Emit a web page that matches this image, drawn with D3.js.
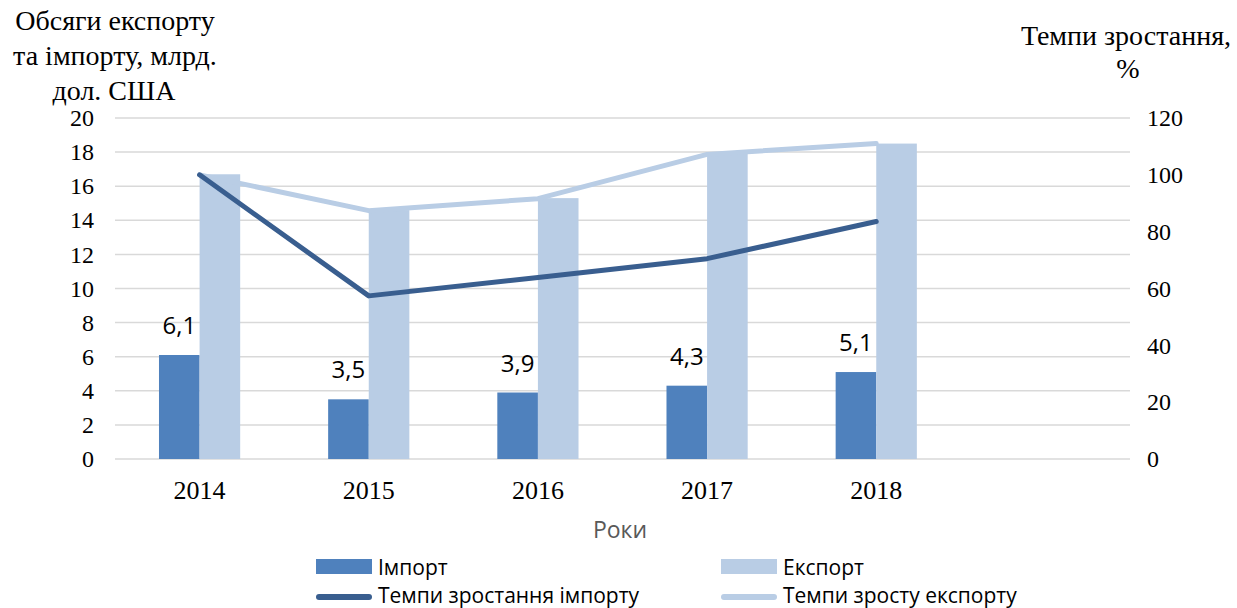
<!DOCTYPE html>
<html>
<head>
<meta charset="utf-8">
<script src="https://cdn.jsdelivr.net/npm/d3@7"></script>
<style>
  body { margin: 0; background: #fff; }
  svg { display: block; }
</style>
</head>
<body>
<div id="chart"></div>
<script>
// data
var years = ["2014", "2015", "2016", "2017", "2018"];
var importVals = [6.1, 3.5, 3.9, 4.3, 5.1];
var exportVals = [16.7, 14.6, 15.3, 17.9, 18.5];
var importGrowth = [100, 57.4, 63.9, 70.5, 83.6];
var exportGrowth = [100, 87.4, 91.6, 107.2, 111];
var leftTicks = [0, 2, 4, 6, 8, 10, 12, 14, 16, 18, 20];
var rightTicks = [0, 20, 40, 60, 80, 100, 120];

var width = 1237, height = 608;
var plotLeft = 115, plotRight = 1130, plotTop = 118, plotBottom = 459;

var colImport = "#4f81bd";
var colExport = "#b9cde5";
var colImportLine = "#395e8f";
var colExportLine = "#b9cde5";
var serif = "'Liberation Serif', 'Times New Roman', serif";
var sans = "'Open Sans', 'Noto Sans', sans-serif";

var svg = d3.select("#chart").append("svg")
    .attr("width", width)
    .attr("height", height);

// one empty slot after 2018, like the original
var x = d3.scaleBand()
    .domain(years.concat(["_"]))
    .range([plotLeft, plotRight])
    .padding(0);

var yL = d3.scaleLinear().domain([0, 20]).range([plotBottom, plotTop]);
var yR = d3.scaleLinear().domain([0, 120]).range([plotBottom, plotTop]);

var barW = x.bandwidth() * 0.24;
var cx = function(d) { return x(d) + x.bandwidth() / 2; };

// gridlines
svg.append("g").selectAll("line")
    .data(leftTicks)
    .enter().append("line")
    .attr("x1", plotLeft)
    .attr("x2", plotRight)
    .attr("y1", function(d) { return yL(d); })
    .attr("y2", function(d) { return yL(d); })
    .style("stroke", "#d9d9d9")
    .style("stroke-width", 1.5);

// left axis labels
var axL = svg.append("g")
    .attr("transform", "translate(" + (plotLeft - 21) + ",0)")
    .call(d3.axisLeft(yL).tickValues(leftTicks).tickSize(0).tickPadding(0));
axL.select(".domain").remove();
axL.selectAll("text")
    .style("font-family", serif)
    .style("font-size", "24px")
    .attr("fill", "#000");

// right axis labels
var axR = svg.append("g")
    .attr("transform", "translate(" + (plotRight + 17) + ",0)")
    .call(d3.axisRight(yR).tickValues(rightTicks).tickSize(0).tickPadding(0));
axR.select(".domain").remove();
axR.selectAll("text")
    .style("font-family", serif)
    .style("font-size", "24px")
    .attr("fill", "#000");

// x labels
svg.append("g").selectAll("text")
    .data(years)
    .enter().append("text")
    .attr("x", cx)
    .attr("y", plotBottom + 40)
    .attr("text-anchor", "middle")
    .style("font-family", serif)
    .style("font-size", "26px")
    .text(function(d) { return d; });

// bars
svg.append("g").selectAll("rect")
    .data(importVals)
    .enter().append("rect")
    .attr("x", function(d, i) { return cx(years[i]) - barW; })
    .attr("y", function(d) { return yL(d); })
    .attr("width", barW)
    .attr("height", function(d) { return plotBottom - yL(d); })
    .style("fill", colImport);

svg.append("g").selectAll("rect")
    .data(exportVals)
    .enter().append("rect")
    .attr("x", function(d, i) { return cx(years[i]); })
    .attr("y", function(d) { return yL(d); })
    .attr("width", barW)
    .attr("height", function(d) { return plotBottom - yL(d); })
    .style("fill", colExport);

// import labels
svg.append("g").selectAll("text")
    .data(importVals)
    .enter().append("text")
    .attr("x", function(d, i) { return cx(years[i]) - barW / 2; })
    .attr("y", function(d) { return yL(d) - 21; })
    .attr("text-anchor", "middle")
    .style("font-family", sans)
    .style("font-size", "24px")
    .text(function(d) { return String(d).replace(".", ","); });

// growth lines
var line = d3.line()
    .x(function(d, i) { return cx(years[i]); })
    .y(function(d) { return yR(d); });

svg.append("path")
    .datum(exportGrowth)
    .attr("d", line)
    .style("fill", "none")
    .style("stroke", colExportLine)
    .style("stroke-width", 5)
    .style("stroke-linecap", "round")
    .style("stroke-linejoin", "round");

svg.append("path")
    .datum(importGrowth)
    .attr("d", line)
    .style("fill", "none")
    .style("stroke", colImportLine)
    .style("stroke-width", 5)
    .style("stroke-linecap", "round")
    .style("stroke-linejoin", "round");

// axis titles
var tl = svg.append("text")
    .attr("text-anchor", "middle")
    .style("font-family", serif)
    .style("font-size", "28px");
tl.append("tspan").attr("x", 115).attr("y", 30).text("Обсяги експорту");
tl.append("tspan").attr("x", 115).attr("y", 65).text("та імпорту, млрд.");
tl.append("tspan").attr("x", 114).attr("y", 100).text("дол. США");

var tr = svg.append("text")
    .attr("text-anchor", "middle")
    .style("font-family", serif)
    .style("font-size", "28px");
tr.append("tspan").attr("x", 1126).attr("y", 45).text("Темпи зростання,");
tr.append("tspan").attr("x", 1128).attr("y", 78).text("%");

svg.append("text")
    .attr("x", 620)
    .attr("y", 538)
    .attr("text-anchor", "middle")
    .style("font-family", sans)
    .style("font-size", "23px")
    .attr("fill", "#595959")
    .text("Роки");

// legend
var legend = [
    { name: "Імпорт", type: "rect", color: colImport, x: 316, y: 566.5, ty: 8 },
    { name: "Експорт", type: "rect", color: colExport, x: 721, y: 566.5, ty: 8 },
    { name: "Темпи зростання імпорту", type: "line", color: colImportLine, x: 316, y: 597, ty: 6 },
    { name: "Темпи зросту експорту", type: "line", color: colExportLine, x: 721, y: 597, ty: 6 }
];

var lg = svg.append("g").selectAll("g")
    .data(legend)
    .enter().append("g")
    .attr("transform", function(d) { return "translate(" + d.x + "," + d.y + ")"; });

lg.filter(function(d) { return d.type === "rect"; })
    .append("rect")
    .attr("x", 0)
    .attr("y", -7.5)
    .attr("width", 56)
    .attr("height", 15)
    .style("fill", function(d) { return d.color; });

lg.filter(function(d) { return d.type === "line"; })
    .append("line")
    .attr("x1", 3)
    .attr("x2", 53)
    .attr("y1", 0)
    .attr("y2", 0)
    .style("stroke", function(d) { return d.color; })
    .style("stroke-width", 6)
    .style("stroke-linecap", "round");

lg.append("text")
    .attr("x", 62)
    .attr("y", function(d) { return d.ty; })
    .style("font-family", sans)
    .style("font-size", "21px")
    .text(function(d) { return d.name; });
</script>
</body>
</html>
